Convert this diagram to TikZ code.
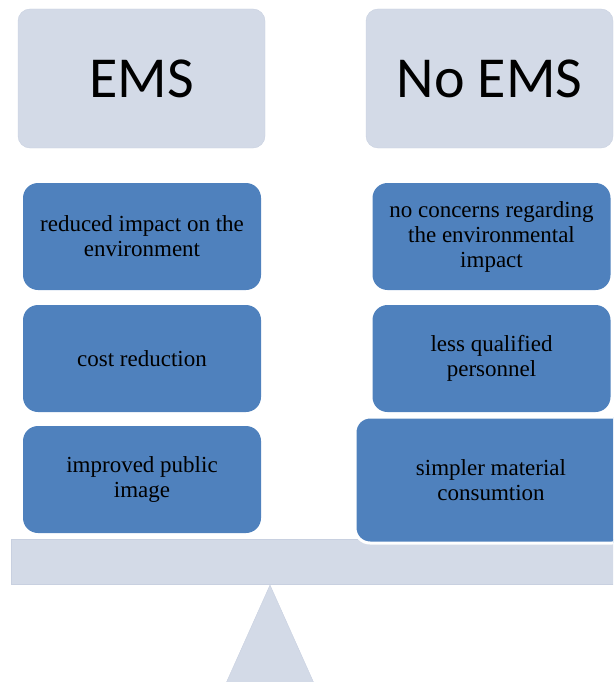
\documentclass[tikz,border=0pt]{standalone}
\usepackage{fontspec}
\setmainfont{Liberation Serif}
\newfontfamily\headfont{Carlito}
\definecolor{scalegray}{HTML}{D3DAE7}
\definecolor{scaleline}{HTML}{C8D0E0}
\definecolor{argblue}{HTML}{4F81BD}
\tikzset{
	headbox/.style={draw=scaleline, fill=scalegray, rounded corners=12pt, inner sep=0pt,
		minimum width=247pt, minimum height=139pt, font=\headfont\fontsize{58}{60}\selectfont},
	argbox/.style={fill=argblue, rounded corners=15pt, inner sep=0pt, align=center,
		minimum width=238pt, minimum height=107pt, font=\fontsize{23}{25}\selectfont}
}
\begin{document}
\begin{tikzpicture}[x=1pt,y=-1pt]
		\useasboundingbox (0,0) rectangle (613,682);
		\clip (0,0) rectangle (613,682);
		% the scale
		\draw[scaleline, fill=scalegray] (270,585) -- (321.5,700) -- (218.5,700) -- cycle;
		\draw[scaleline, fill=scalegray] (11,539) rectangle (640,584);
		\node[headbox] (ems) at (141.5,78.5) {EMS};
		\node[headbox] (noems) at (489.5,78.5) {No EMS};
		\node[argbox] (ems1) at (142,236.5) {reduced impact on the\\environment};
		\node[argbox] (ems2) at (142,358.5) {cost reduction};
		\node[argbox] (ems3) at (142,479.5) {improved public\\image};
		\node[argbox] (noems1) at (491.5,236.5) {no concerns regarding\\the environmental\\impact};
		\node[argbox] (noems2) at (491.5,358.5) {less qualified\\personnel};
		\node[argbox, draw=white, line width=3pt, minimum width=272pt, minimum height=126pt]
			(noems3) at (491,480) {simpler material\\consumtion};
	\end{tikzpicture}
\end{document}
